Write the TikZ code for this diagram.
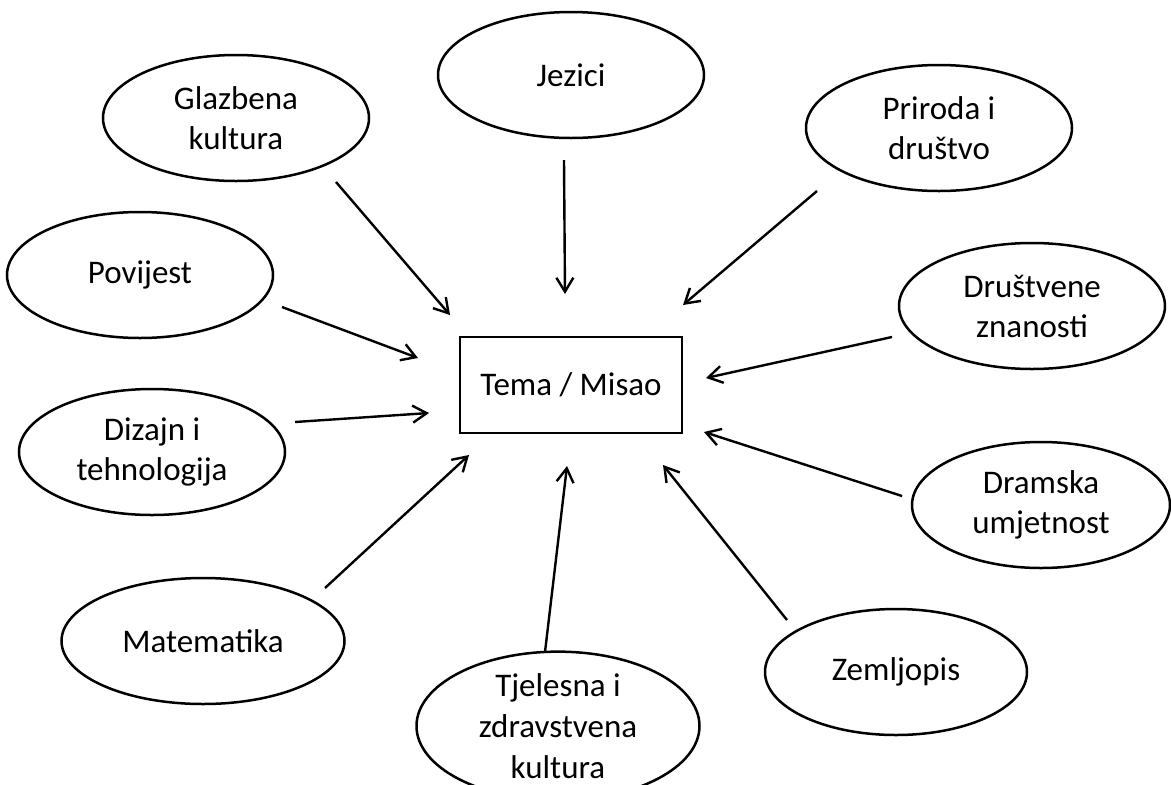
\documentclass[tikz,border=0pt]{standalone}
\usepackage{fontspec}
\setmainfont{Carlito}
\usetikzlibrary{shapes.geometric,arrows.meta,positioning}

\begin{document}
\begin{tikzpicture}[
    x=1pt, y=-1pt,
    subject/.style={ellipse,draw,line width=2.5pt,minimum width=266pt,minimum height=126pt,inner sep=0pt,align=center,font=\fontsize{33}{40}\selectfont},
    topic/.style={rectangle,draw,line width=2.8pt,minimum width=222pt,minimum height=96pt,align=center,font=\fontsize{33}{40}\selectfont},
    arrow/.style={-{Straight Barb[length=14pt,width=17pt]},line width=2.4pt}
]

%--- Page frame ---%
\useasboundingbox (0,0) rectangle (1171,785);
\fill[white] (0,0) rectangle (1171,785);
\clip (0,0) rectangle (1171,785);

%--- Central topic ---%
\node[topic] (tema) at (571,385) {Tema / Misao};

%--- Subjects around the topic ---%
\node[subject] (jezici) at (571,75) {Jezici};
\node[subject] (glazbena) at (236,118) {Glazbena\\kultura};
\node[subject] (priroda) at (939,128) {Priroda i\\društvo};
\node[subject] (povijest) at (140,275) {Povijest};
\node[subject] (drustvene) at (1032,306) {Društvene\\znanosti};
\node[subject] (dizajn) at (152,452) {Dizajn i\\tehnologija};
\node[subject,minimum width=258pt] (dramska) at (1041,505) {Dramska\\umjetnost};
\node[subject,minimum width=283pt] (matematika) at (203,641) {Matematika};
\node[subject,minimum width=262pt] (zemljopis) at (896,672) {Zemljopis};
\node[subject,minimum width=283pt,minimum height=140pt,font=\fontsize{33}{41}\selectfont] (tjelesna) at (558,726) {Tjelesna i\\zdravstvena\\kultura};

%--- Arrow ends (the arrows stop short of the shapes) ---%
\coordinate (jezici-start) at (564,160);
\coordinate (jezici-tip) at (565,294);
\coordinate (glazbena-start) at (336,182);
\coordinate (glazbena-tip) at (450,315);
\coordinate (priroda-start) at (817,191);
\coordinate (priroda-tip) at (683,305);
\coordinate (povijest-start) at (282,307);
\coordinate (povijest-tip) at (418,358);
\coordinate (drustvene-start) at (892,337);
\coordinate (drustvene-tip) at (706,378);
\coordinate (dizajn-start) at (295,422);
\coordinate (dizajn-tip) at (429,413);
\coordinate (dramska-start) at (902,496);
\coordinate (dramska-tip) at (704,432);
\coordinate (matematika-start) at (325,588);
\coordinate (matematika-tip) at (469,455);
\coordinate (tjelesna-start) at (545,652);
\coordinate (tjelesna-tip) at (567,466);
\coordinate (zemljopis-start) at (787,620);
\coordinate (zemljopis-tip) at (663,465);

%--- Arrows into the topic ---%
\draw[arrow] (jezici-start) -- (jezici-tip);
\draw[arrow] (glazbena-start) -- (glazbena-tip);
\draw[arrow] (priroda-start) -- (priroda-tip);
\draw[arrow] (povijest-start) -- (povijest-tip);
\draw[arrow] (drustvene-start) -- (drustvene-tip);
\draw[arrow] (dizajn-start) -- (dizajn-tip);
\draw[arrow] (dramska-start) -- (dramska-tip);
\draw[arrow] (matematika-start) -- (matematika-tip);
\draw[arrow] (tjelesna-start) -- (tjelesna-tip);
\draw[arrow] (zemljopis-start) -- (zemljopis-tip);

\end{tikzpicture}
\end{document}
